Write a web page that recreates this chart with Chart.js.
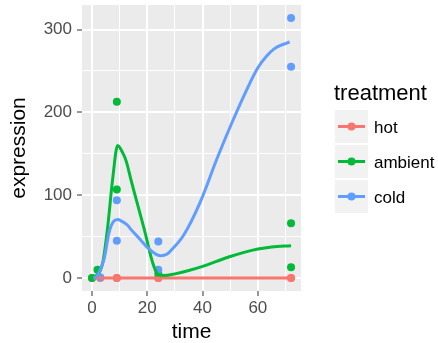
<!DOCTYPE html>
<html>
<head>
<meta charset="utf-8">
<script src="https://cdn.jsdelivr.net/npm/chart.js@4"></script>
<style>
  body { margin: 0; background: #fff; }
  canvas { display: block; }
</style>
</head>
<body>
<canvas id="chart" width="438" height="343"></canvas>
<script>
// observed expression by treatment
const treatments = ['hot', 'ambient', 'cold'];
const colors = ['#F8766D', '#00BA38', '#619CFF'];

const hotTime = [0, 3, 9, 9, 24, 24, 72, 72];
const hotValue = [0, 0, 0, 0, 0, 0, 0, 0];
const ambientTime = [0, 2, 9, 9, 24, 72, 72];
const ambientValue = [0, 10, 213, 107, 5, 66, 13];
const coldTime = [3, 9, 9, 24, 24, 72, 72];
const coldValue = [1, 94, 45, 44, 10, 314, 255];

// smoothed trend per treatment
const hotFitTime = [0.5, 24, 72];
const hotFitValue = [0, 0, 0];
const ambientFitTime = [0, 1.5, 3, 4, 5.6, 7.5, 9.3, 11, 12.5, 14, 16, 18.9, 21.9, 23.7, 26, 30, 35, 40, 45, 50, 55, 60, 65, 72];
const ambientFitValue = [0, 3, 9, 20, 59, 120, 160, 152, 140, 120, 95, 59, 19, 5, 3, 5, 9, 14, 20, 26, 31, 35, 37.5, 39];
const coldFitTime = [0.5, 1.4, 2.6, 4.4, 6.2, 8, 9.5, 10.5, 12.8, 14, 17.6, 20, 23.6, 25, 27.2, 28.5, 33.2, 39.2, 45.2, 51.2, 57.2, 60, 63.2, 66, 69, 71.5];
const coldFitValue = [0, 1, 7, 23, 55, 69, 70.5, 69, 64, 59, 46, 37, 28, 27, 29, 33, 52, 92, 144, 192, 236, 254, 268, 277, 282, 285];

// axes
const xGrid = [0, 10, 20, 30, 40, 50, 60, 70];
const xLabels = [0, 20, 40, 60];
const yGrid = [0, 50, 100, 150, 200, 250, 300];
const yLabels = [0, 100, 200, 300];

const FONT = '"Liberation Sans", Arial, sans-serif';

const pairs = (xs, ys) => xs.map((x, i) => ({ x: x, y: ys[i] }));

const pointSets = [pairs(hotTime, hotValue), pairs(ambientTime, ambientValue), pairs(coldTime, coldValue)];
const fitSets = [pairs(hotFitTime, hotFitValue), pairs(ambientFitTime, ambientFitValue), pairs(coldFitTime, coldFitValue)];

const datasets = [];
treatments.forEach((name, i) => {
  datasets.push({
    label: name + ' points',
    data: pointSets[i],
    backgroundColor: colors[i],
    borderWidth: 0,
    pointRadius: 4,
    showLine: false,
    order: 6 - i
  });
  datasets.push({
    label: name,
    data: fitSets[i],
    borderColor: colors[i],
    borderWidth: 3,
    pointRadius: 0,
    showLine: true,
    fill: false,
    cubicInterpolationMode: 'monotone',
    order: 3 - i
  });
});

// grey panel behind the plot
const panelBackground = {
  id: 'panelBackground',
  beforeDraw(chart) {
    const { ctx, chartArea: a } = chart;
    ctx.save();
    ctx.fillStyle = '#EBEBEB';
    ctx.fillRect(a.left, a.top, a.right - a.left, a.bottom - a.top);
    ctx.restore();
  }
};

// legend with grey key boxes
const sideLegend = {
  id: 'sideLegend',
  afterDraw(chart) {
    const ctx = chart.ctx;
    ctx.save();
    ctx.fillStyle = '#000';
    ctx.font = '22px ' + FONT;
    ctx.textBaseline = 'alphabetic';
    ctx.fillText('treatment', 334, 100);
    treatments.forEach((name, i) => {
      const top = 110 + i * 35;
      const mid = top + 16.5;
      ctx.fillStyle = '#F2F2F2';
      ctx.fillRect(335, top, 33, 33);
      ctx.strokeStyle = colors[i];
      ctx.lineWidth = 3;
      ctx.beginPath();
      ctx.moveTo(338, mid);
      ctx.lineTo(365, mid);
      ctx.stroke();
      ctx.fillStyle = colors[i];
      ctx.beginPath();
      ctx.arc(351.5, mid, 4, 0, Math.PI * 2);
      ctx.fill();
      ctx.fillStyle = '#000';
      ctx.font = '17px ' + FONT;
      ctx.fillText(name, 374, mid + 6.5);
    });
    ctx.restore();
  }
};

const gridOptions = (majors) => ({
  color: '#FFFFFF',
  lineWidth: (c) => majors.includes(c.tick.value) ? 2 : 1,
  tickColor: (c) => majors.includes(c.tick.value) ? '#333333' : 'rgba(0,0,0,0)',
  tickWidth: 1,
  tickLength: 5,
  drawTicks: true
});

new Chart(document.getElementById('chart'), {
  type: 'scatter',
  data: { datasets: datasets },
  options: {
    responsive: false,
    animation: false,
    devicePixelRatio: 1,
    layout: { padding: { left: 0, top: 5, right: 137, bottom: 0 } },
    plugins: {
      legend: { display: false },
      tooltip: { enabled: false }
    },
    scales: {
      x: {
        type: 'linear',
        min: -3.6,
        max: 75.6,
        afterBuildTicks: (s) => { s.ticks = xGrid.map(v => ({ value: v })); },
        afterFit: (s) => { s.height = 52; s.paddingLeft = 0; s.paddingRight = 0; },
        border: { display: false },
        grid: gridOptions(xLabels),
        ticks: {
          color: '#4D4D4D',
          font: { family: FONT, size: 17 },
          padding: 2,
          maxRotation: 0,
          autoSkip: false,
          callback: (v) => xLabels.includes(v) ? String(v) : ''
        },
        title: {
          display: true,
          text: 'time',
          color: '#000',
          font: { family: FONT, size: 21, lineHeight: 1 },
          padding: { top: 0, bottom: 0 }
        }
      },
      y: {
        type: 'linear',
        min: -15.7,
        max: 329.7,
        afterBuildTicks: (s) => { s.ticks = yGrid.map(v => ({ value: v })); },
        afterFit: (s) => { s.width = 82; s.paddingTop = 0; s.paddingBottom = 0; },
        border: { display: false },
        grid: gridOptions(yLabels),
        ticks: {
          color: '#4D4D4D',
          font: { family: FONT, size: 17 },
          padding: 5,
          autoSkip: false,
          callback: (v) => yLabels.includes(v) ? String(v) : ''
        },
        title: {
          display: true,
          text: 'expression',
          color: '#000',
          font: { family: FONT, size: 21, lineHeight: 1 },
          padding: { top: 9, bottom: 0 }
        }
      }
    }
  },
  plugins: [panelBackground, sideLegend]
});
</script>
</body>
</html>
